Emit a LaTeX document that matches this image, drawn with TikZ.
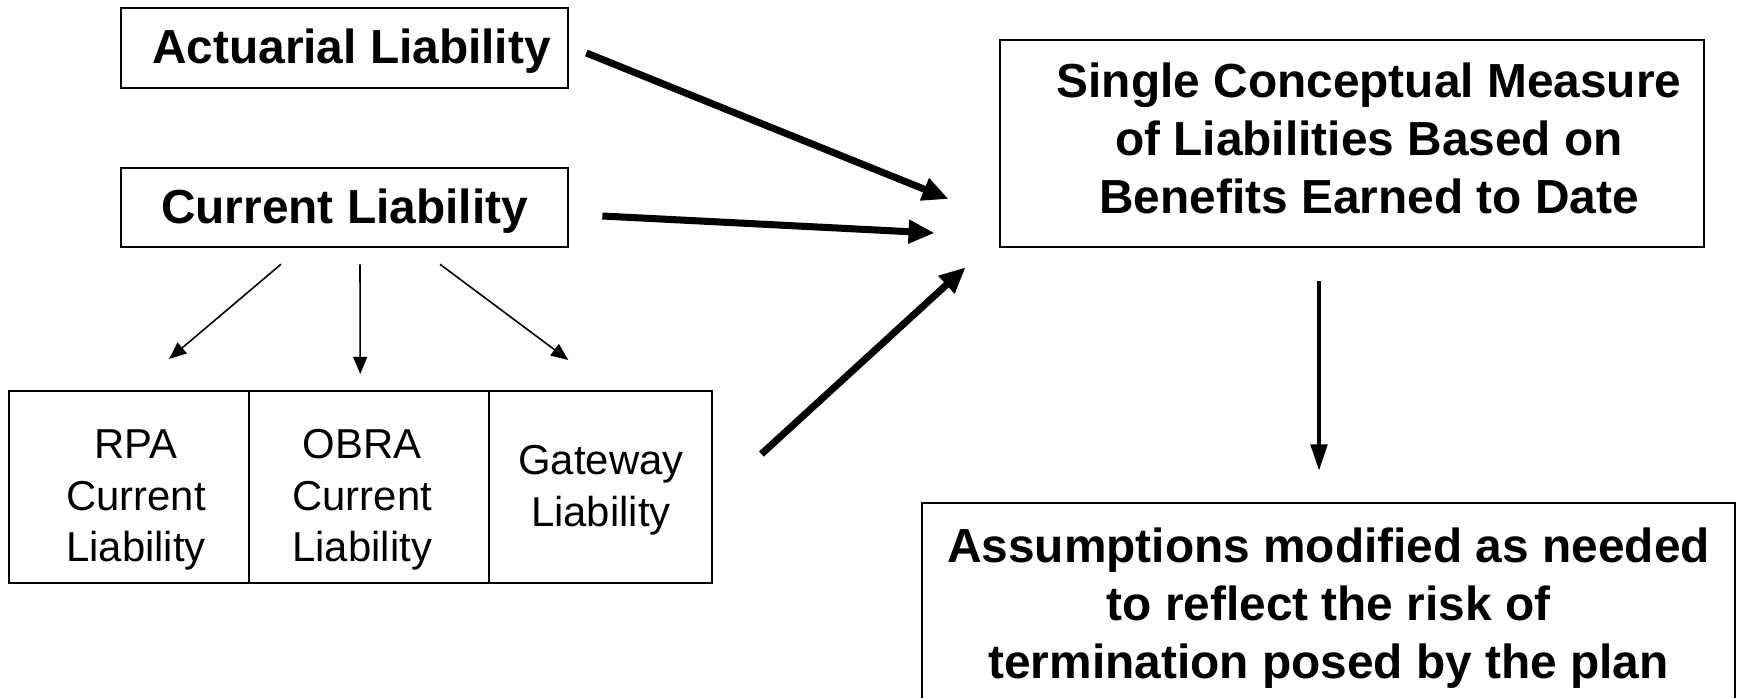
\documentclass[tikz,border=0pt]{standalone}
\usepackage{fontspec}
\setmainfont{Liberation Sans}
\usetikzlibrary{arrows.meta,positioning}

\begin{document}
\begin{tikzpicture}[x=0.01cm, y=-0.01cm,
      box/.style={draw, line width=0.7pt, inner sep=0pt},
      boxtext/.style={align=center, inner sep=0pt, font=\fontsize{13.6}{16.5}\selectfont\bfseries},
      cell/.style={draw, line width=0.6pt, inner sep=0pt, outer sep=0pt, minimum width=2.4cm, minimum height=1.92cm},
      celltext/.style={align=center, inner sep=0pt, font=\fontsize{11.9}{14.65}\selectfont},
      big/.style={-{Triangle[length=7.4pt,width=6.4pt]}, line width=2pt},
      small/.style={-{Triangle[length=4.9pt,width=4pt]}, line width=0.45pt},
      down/.style={-{Triangle[length=7.6pt,width=4.6pt]}, line width=1.3pt}]
      \useasboundingbox (0,0) rectangle (1737,697);

      \node [box, minimum width=4.47cm, minimum height=0.80cm,
        label={[boxtext, shift={(7,3)}]center:Actuarial Liability}] (act) at (344.5,48) {};
      \node [box, minimum width=4.47cm, minimum height=0.79cm,
        label={[boxtext, shift={(0,3.5)}]center:Current Liability}] (cur) at (344.5,207.5) {};

      \node [cell, anchor=north west, label={[celltext, shift={(7,13)}]center:RPA\\Current\\Liability}] (rpa) at (9,391) {};
      \node [cell, right=0pt of rpa, label={[celltext, shift={(-7,13)}]center:OBRA\\Current\\Liability}] (obra) {};
      \node [cell, right=0pt of obra, minimum width=2.23cm, label={[celltext, shift={(0,3)}]center:Gateway\\Liability}] (gate) {};

      \node [box, minimum width=7.04cm, minimum height=2.07cm,
        label={[boxtext, shift={(17,-5)}]center:Single Conceptual Measure\\of Liabilities Based on\\Benefits Earned to Date}] (single) at (1352,143.5) {};
      \node [box, minimum width=8.13cm, minimum height=2.04cm, anchor=north,
        label={[boxtext, shift={(0,3)}]center:Assumptions modified as needed\\to reflect the risk of\\termination posed by the plan}] (assum) at (1328.5,502) {};

      \draw [small] ([shift={(-63.5,16)}]cur.south) -- ([shift={(40,-32)}]rpa.north);
      \draw [small] ([shift={(15.5,16)}]cur.south) -- ([shift={(-9,-17)}]obra.north);
      \draw [small] ([shift={(95.5,16)}]cur.south) -- ([shift={(-32.5,-31)}]gate.north);

      \draw [big] ([shift={(17,5)}]act.east) -- ([shift={(-50,55.5)}]single.west);
      \draw [big] ([shift={(33,8.5)}]cur.east) -- ([shift={(-64,89.5)}]single.west);
      \draw [big] ([shift={(49,-33)}]gate.east) -- ([shift={(-33,19)}]single.south west);

      \draw [down] ([shift={(-33,33)}]single.south) -- ([shift={(-9.5,-31)}]assum.north);
  \end{tikzpicture}
\end{document}
